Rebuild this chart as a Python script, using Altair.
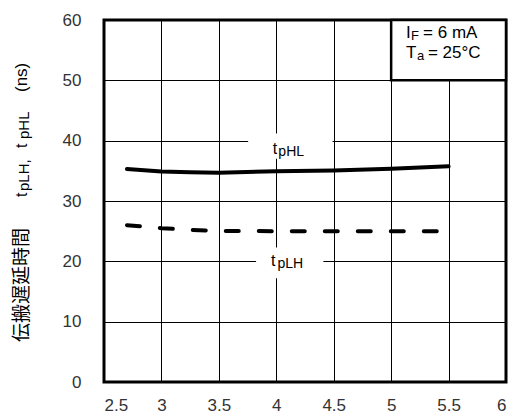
import altair as alt
import pandas as pd

# ---- data ----
V = [2.7, 3.0, 3.25, 3.5, 4.0, 4.5, 5.0, 5.5]
tpHL = [35.3, 34.9, 34.75, 34.7, 34.95, 35.05, 35.35, 35.75]
tpLH = [26.0, 25.5, 25.2, 25.05, 25.0, 25.0, 25.0, 25.0]

x_ticks = [2.5, 3.0, 3.5, 4.0, 4.5, 5.0, 5.5, 6.0]
y_ticks = [0, 10, 20, 30, 40, 50, 60]

LATIN = "Liberation Sans"
CJK = "Noto Sans CJK JP"

df_hl = pd.DataFrame({"V": V, "t": tpHL})
df_lh = pd.DataFrame({"V": V, "t": tpLH})

xs = alt.Scale(domain=[2.5, 6], nice=False, zero=False)
ys = alt.Scale(domain=[0, 60], nice=False)
xaxis = alt.Axis(values=x_ticks, format="~g", title=None, labelPadding=15)
yaxis = alt.Axis(values=y_ticks, title=None, labelPadding=23)


def X(f="V"):
    return alt.X(f"{f}:Q", scale=xs, axis=xaxis)


def Y(f="t"):
    return alt.Y(f"{f}:Q", scale=ys, axis=yaxis)


# white patches behind the curve labels (they interrupt the grid)
patch_df = pd.DataFrame({
    "x1": [3.755, 3.824], "x2": [4.49, 4.41],
    "y1": [37.0, 17.2], "y2": [41.2, 22.3],
})
patches = alt.Chart(patch_df).mark_rect(color="white").encode(
    x=X("x1"), x2="x2:Q", y=Y("y1"), y2="y2:Q"
)

line_hl = alt.Chart(df_hl).mark_line(color="black", strokeWidth=4, strokeCap="round").encode(
    x=X(), y=Y()
)
line_lh = alt.Chart(df_lh).mark_line(
    color="black", strokeWidth=4, strokeDash=[13, 20], strokeCap="round"
).encode(x=X(), y=Y())

# condition box (top right)
box_df = pd.DataFrame({"x1": [5.0], "x2": [6.0], "y1": [50.0], "y2": [60.0]})
box = alt.Chart(box_df).mark_rect(fill="white", stroke="black", strokeWidth=2.5).encode(
    x=X("x1"), x2="x2:Q", y=Y("y1"), y2="y2:Q"
)

# curve labels: main text and subscripts, anchored in data space
curve_main = pd.DataFrame({"x": [3.97, 3.953], "y": [37.8, 19.23], "s": ["t", "t"]})
curve_sub = pd.DataFrame({"x": [4.018, 4.01], "y": [37.46, 18.9], "s": ["pHL", "pLH"]})
# condition box text
box_main = pd.DataFrame({
    "x": [5.13, 5.278, 5.13, 5.32],
    "y": [57.0, 57.0, 53.7, 53.7],
    "s": ["I", "= 6 mA", "T", "= 25°C"],
})
box_sub = pd.DataFrame({"x": [5.172, 5.225], "y": [56.69, 53.3], "s": ["F", "a"]})


def txt(df, fs):
    return alt.Chart(df).mark_text(
        align="left", baseline="alphabetic", font=LATIN, fontSize=fs, color="black"
    ).encode(x=X("x"), y=Y("y"), text="s:N")


# rotated y-axis title, composed of pieces (pixel offsets relative to the plot origin)
title_parts = [
    ("伝搬遅延時間", -82, 322, 19, CJK),
    ("t", -82, 177, 16, LATIN),
    ("pLH,", -80, 171, 15, LATIN),
    ("t", -82, 128, 16, LATIN),
    ("pHL", -80, 119, 15, LATIN),
    ("(ns)", -82, 72, 17, LATIN),
]
title_layers = []
for s, px, py, fs, fnt in title_parts:
    title_layers.append(
        alt.Chart(pd.DataFrame({"s": [s]})).mark_text(
            angle=270, align="left", baseline="middle", font=fnt, fontSize=fs, color="black"
        ).encode(x=alt.value(px), y=alt.value(py), text="s:N")
    )

chart = alt.layer(
    patches, line_hl, line_lh, box,
    txt(curve_main, 16), txt(curve_sub, 14), txt(box_main, 17), txt(box_sub, 13),
    *title_layers
).properties(
    width=402,
    height=362,
    autosize=alt.AutoSizeParams(type="none"),
    padding={"left": 96, "top": 12, "right": 5, "bottom": 34},
).configure_view(
    stroke="black", strokeWidth=3
).configure_axis(
    domain=False, ticks=False, grid=True, gridColor="black", gridWidth=1, gridOpacity=1,
    labelFont=LATIN, labelFontSize=17, labelColor="#333"
)

chart.save("out.html", embed_options={"renderer": "svg", "actions": False})
